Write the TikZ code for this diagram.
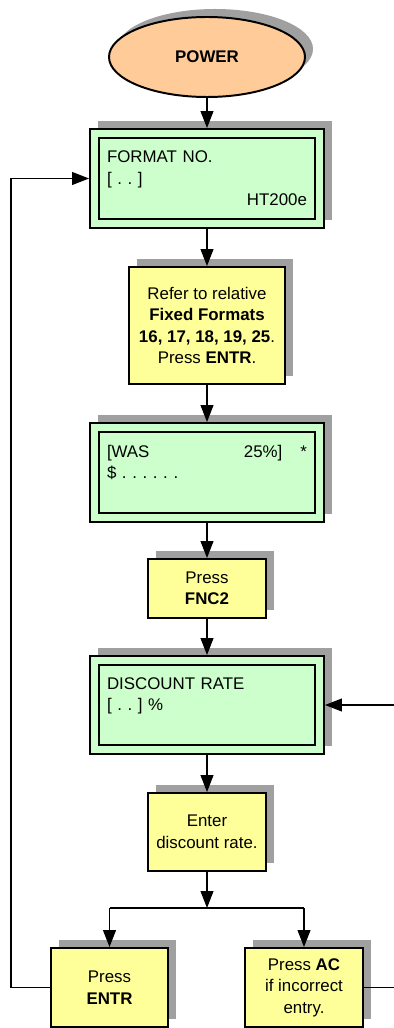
\documentclass[tikz,border=0pt]{standalone}
\usepackage{fontspec}
\setmainfont{Liberation Sans}
\usepackage{xcolor}
\usepackage{tikz}
\usetikzlibrary{arrows.meta,positioning,shapes.geometric,shadows}
\definecolor{powerorange}{RGB}{255, 204, 153}
\definecolor{lcdgreen}{RGB}{204, 255, 204}
\definecolor{keyyellow}{RGB}{255, 255, 153}
\definecolor{shadowgray}{RGB}{160, 160, 160}
\frenchspacing

\begin{document}
\begin{tikzpicture}[
  font=\fontsize{12}{15.3}\selectfont,
  boxshadow/.style={drop shadow={shadow xshift=0.2cm, shadow yshift=0.2cm, opacity=1, fill=shadowgray}},
  startnode/.style={ellipse, draw=black, fill=powerorange, line width=1.4pt, minimum width=4.9cm, minimum height=2cm, inner sep=0pt, font=\fontsize{12}{15.3}\selectfont\bfseries, boxshadow},
  lcd/.style={rectangle, draw=black, fill=lcdgreen, line width=1.4pt, minimum width=5.85cm, minimum height=2.475cm, text width=5cm, align=left, inner sep=0pt, boxshadow},
  lcdframe/.style={line width=1.4pt},
  keybox/.style={rectangle, draw=black, fill=keyyellow, line width=1.4pt, align=center, inner sep=0pt, boxshadow},
  flow/.style={-{Triangle[length=0.42cm,width=0.32cm]}, line width=0.8pt},
  link/.style={line width=0.8pt}
]
\useasboundingbox (0,0) rectangle (9.85,-25.7);

% Main column (x = 5.175)
\node[startnode] (power) at (5.175, -1.425) {POWER};
\node[lcd] (fmt) at (5.175, -4.4625) {FORMAT NO.\\{}[ . . ]\\\hspace*{\fill}HT200e};
\node[keybox, minimum width=3.9cm, minimum height=2.925cm] (refer) at (5.175, -8.1375) {Refer to relative\\\textbf{Fixed Formats}\\\textbf{16, 17, 18, 19, 25}.\\Press \textbf{ENTR}.};
\node[lcd] (was) at (5.175, -11.8125) {[WAS\hfill 25\%]\hspace{0.45cm}*\\\$ . . . . . .\\\mbox{}};
\node[keybox, minimum width=2.95cm, minimum height=1.475cm] (fnc) at (5.175, -14.7125) {Press\\\textbf{FNC2}};
\node[lcd, minimum height=2.45cm] (disc) at (5.175, -17.625) {DISCOUNT RATE\\{}[ . . ] \%\\\mbox{}};
\node[keybox, minimum width=2.95cm, minimum height=1.95cm] (enter) at (5.175, -20.8) {Enter\\discount rate.};

% Bottom row: the two keys
\node[keybox, minimum width=2.925cm, minimum height=1.975cm] (entr) at (2.7375, -24.6875) {Press\\\textbf{ENTR}};
\node[keybox, minimum width=2.95cm, minimum height=1.975cm] (ac) at (7.6, -24.6875) {Press \textbf{AC}\\if incorrect\\entry.};

% inner frame of the displays
\foreach \n in {fmt, was, disc}
  \draw[lcdframe] ([shift={(0.25,-0.25)}]\n.north west) rectangle ([shift={(-0.25,0.25)}]\n.south east);

% Connections
\coordinate (split) at (5.175, -22.7);
\coordinate (rin) at (9.85, -17.625);
\coordinate (rout) at (9.85, -24.6875);

\draw[flow] (power) -- (fmt);
\draw[flow] (fmt) -- (refer);
\draw[flow] (refer) -- (was);
\draw[flow] (was) -- (fnc);
\draw[flow] (fnc) -- (disc);
\draw[flow] (disc) -- (enter);
\draw[flow] (enter) -- (split);
\draw[link] (split -| entr) -- (split -| ac);
\draw[flow] (split -| entr) -- (entr);
\draw[flow] (split -| ac) -- (ac);

\draw[flow] (entr) -| ([xshift=-1.95cm]fmt.west) -- (fmt);
\draw[flow] (rin) -- (disc);
\draw[link] (ac) -- (rout);

\end{tikzpicture}
\end{document}
